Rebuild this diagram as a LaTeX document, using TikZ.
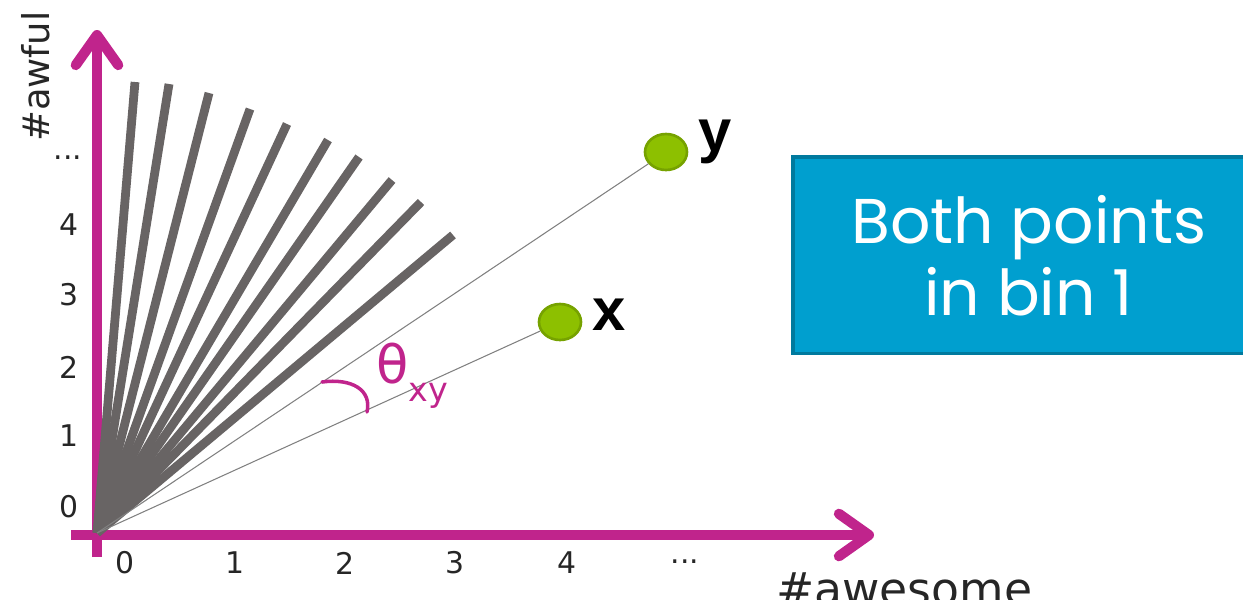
\documentclass[tikz,border=0pt]{standalone}
\usepackage{fontspec}
\usetikzlibrary{arrows.meta, positioning, shapes.geometric}
\newfontfamily\tickfont{DejaVu Sans}
\newfontfamily\boxfont{Poppins}
\newfontfamily\ptfont{Liberation Sans}
\definecolor{axis}{HTML}{C0248C}
\definecolor{binline}{HTML}{686464}
\definecolor{ptgreen}{HTML}{8DC000}
\definecolor{ptedge}{HTML}{76A200}
\definecolor{boxfill}{HTML}{009FCF}
\definecolor{boxedge}{HTML}{007A9E}

\begin{document}
\begin{tikzpicture}[x=0.02cm, y=-0.02cm,
        axisarr/.style={-{Straight Barb[length=6mm, width=8.5mm, round]}, line width=5.8pt, axis},
        bin/.style={line width=5pt, binline},
        vec/.style={line width=0.6pt, gray},
        pt/.style={ellipse, draw=ptedge, line width=1.5pt, fill=ptgreen,
                   minimum width=0.84cm, minimum height=0.72cm, inner sep=0pt},
        ptlabel/.style={font=\ptfont\bfseries\fontsize{34}{34}\selectfont},
        tick/.style={font=\tickfont\fontsize{17}{17}\selectfont, text=black!85},
        axlabel/.style={font=\tickfont, text=black!85},
        msg/.style={rectangle, draw=boxedge, line width=2pt, fill=boxfill, text=white,
                    minimum width=9.44cm, minimum height=3.94cm, align=center,
                    font=\boxfont\fontsize{36}{41}\selectfont},
        anglearc/.style={line width=2pt, axis, line cap=round}
      ]
        \useasboundingbox (0,0) rectangle (1243,599);
        \coordinate (O) at (97,533);
        \draw[axisarr] (71,535) -- (874,535);
        \draw[axisarr] (97,557) -- (97,30);
        \foreach \px/\py [count=\i] in {135/82, 169/84, 209/93, 250/109, 287/124,
                                       328/140, 359/157, 392/180, 421/202, 453/235}
          \coordinate (b\i) at (\px,\py);
        \foreach \i in {1,...,10}
          \draw[bin] (O) -- (b\i);
        \node[pt] (pty) at (666,152) {};
        \node[pt] (ptx) at (560,322) {};
        \draw[vec] (O) -- (pty);
        \draw[vec] (O) -- (ptx);
        \node[ptlabel, right=2pt of pty, yshift=6pt] (ly) {y};
        \node[ptlabel, right=2pt of ptx, yshift=4pt] (lx) {x};
        \draw[anglearc] (322,382) .. controls (352,378) and (372,390) .. (367,412);
        \node[axis, anchor=west] (theta) at (370,376)
          {\tickfont\fontsize{30}{30}\selectfont θ\raisebox{-10pt}{\fontsize{19}{19}\selectfont xy}};
        \foreach \v/\px in {0/125, 1/235, 2/345, 3/455, 4/567}
          \node[tick] (xt\v) at (\px,563) {\v};
        \node[tick] (xtdots) at (685,562) {...};
        \foreach \v/\py in {0/507, 1/436, 2/367, 3/295, 4/225}
          \node[tick] (yt\v) at (69,\py) {\v};
        \node[tick] (ytdots) at (68,158) {...};
        \node[axlabel, font=\tickfont\fontsize{21}{21}\selectfont, rotate=90, anchor=base west] (yl) at (49,148) {\#awful};
        \node[axlabel, font=\tickfont\fontsize{26}{26}\selectfont, anchor=base west] (xl) at (770,605) {\#awesome};
        \node[msg, anchor=north west] (note) at (791,155) {Both points\\in bin 1};
      \end{tikzpicture}
\end{document}
